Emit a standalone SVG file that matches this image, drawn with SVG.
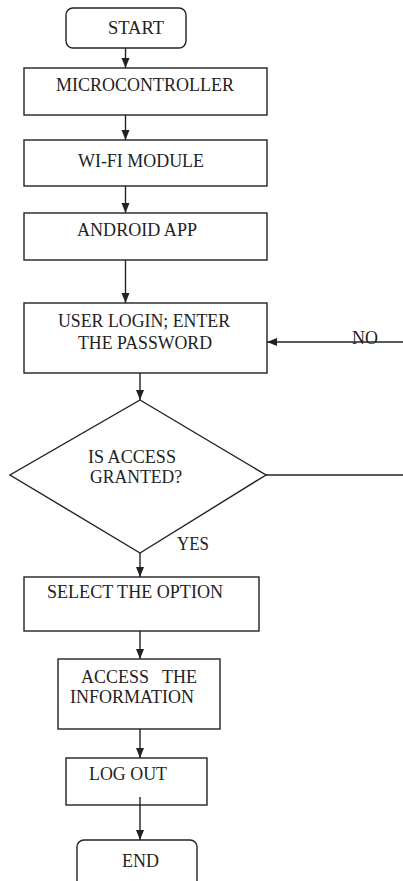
<svg xmlns="http://www.w3.org/2000/svg" width="403" height="881" viewBox="0 0 403 881">
<defs>
<style>
.box{fill:#fff;stroke:#222;stroke-width:1.4}
.ln{fill:none;stroke:#222;stroke-width:1.4}
.t{font-family:"Liberation Serif","Times New Roman",serif;font-size:19px;fill:#222;white-space:pre}
</style>
<marker id="ah" markerUnits="userSpaceOnUse" markerWidth="10" markerHeight="12" refX="10" refY="4" orient="auto">
<path d="M0,0 L10,4 L0,8 Z" fill="#222"/>
</marker>
</defs>
<rect width="403" height="881" fill="#fff"/>
<g id="start"><rect class="box" x="66" y="8" width="120" height="40" rx="7"/><text class="t" x="108" y="34" textLength="56" lengthAdjust="spacingAndGlyphs">START</text></g>
<g id="micro"><rect class="box" x="24" y="68" width="243" height="47"/><text class="t" x="56" y="90.5" textLength="178" lengthAdjust="spacingAndGlyphs">MICROCONTROLLER</text></g>
<g id="wifi"><rect class="box" x="24" y="140" width="243" height="46"/><text class="t" x="78" y="167" textLength="126" lengthAdjust="spacingAndGlyphs">WI-FI MODULE</text></g>
<g id="android"><rect class="box" x="24" y="213" width="243" height="47"/><text class="t" x="77" y="236" textLength="120" lengthAdjust="spacingAndGlyphs">ANDROID APP</text></g>
<g id="login"><rect class="box" x="24" y="303" width="243" height="70"/><text class="t" x="58" y="327" textLength="172" lengthAdjust="spacingAndGlyphs">USER LOGIN; ENTER</text><text class="t" x="78" y="349" textLength="134" lengthAdjust="spacingAndGlyphs">THE PASSWORD</text></g>
<g id="decision"><path class="box" d="M140,400 L266,475 L140,553 L10,475 Z"/><text class="t" x="88" y="463" textLength="88" lengthAdjust="spacingAndGlyphs">IS ACCESS</text><text class="t" x="90" y="483" textLength="92" lengthAdjust="spacingAndGlyphs">GRANTED?</text></g>
<g id="select"><rect class="box" x="24" y="577" width="235" height="54"/><text class="t" x="47" y="598" textLength="176" lengthAdjust="spacingAndGlyphs">SELECT THE OPTION</text></g>
<g id="access"><rect class="box" x="58" y="659" width="162" height="70"/><text class="t" x="81" y="683" textLength="116" lengthAdjust="spacingAndGlyphs" xml:space="preserve">ACCESS   THE</text><text class="t" x="70" y="703" textLength="124" lengthAdjust="spacingAndGlyphs">INFORMATION</text></g>
<g id="logout"><rect class="box" x="66" y="758" width="141" height="47"/><text class="t" x="89" y="780" textLength="78" lengthAdjust="spacingAndGlyphs">LOG OUT</text></g>
<g id="end"><rect class="box" x="77" y="840" width="120" height="60" rx="7"/><text class="t" x="122" y="867" textLength="37" lengthAdjust="spacingAndGlyphs">END</text></g>
<g id="connectors">
<line class="ln" x1="125.5" y1="48" x2="125.5" y2="68" marker-end="url(#ah)"/>
<line class="ln" x1="125.5" y1="115" x2="125.5" y2="140" marker-end="url(#ah)"/>
<line class="ln" x1="125.5" y1="186" x2="125.5" y2="213" marker-end="url(#ah)"/>
<line class="ln" x1="125.5" y1="260" x2="125.5" y2="303" marker-end="url(#ah)"/>
<line class="ln" x1="140" y1="373" x2="140" y2="400" marker-end="url(#ah)"/>
<line class="ln" x1="266" y1="475" x2="403" y2="475"/>
<line class="ln" x1="403" y1="342" x2="267" y2="342" marker-end="url(#ah)"/>
<line class="ln" x1="140" y1="553" x2="140" y2="577" marker-end="url(#ah)"/>
<line class="ln" x1="140" y1="631" x2="140" y2="659" marker-end="url(#ah)"/>
<line class="ln" x1="140" y1="729" x2="140" y2="758" marker-end="url(#ah)"/>
<line class="ln" x1="140" y1="797" x2="140" y2="840" marker-end="url(#ah)"/>
<text class="t" x="352" y="344" textLength="26" lengthAdjust="spacingAndGlyphs">NO</text>
<text class="t" x="177" y="550" textLength="32" lengthAdjust="spacingAndGlyphs">YES</text>
</g>
</svg>
